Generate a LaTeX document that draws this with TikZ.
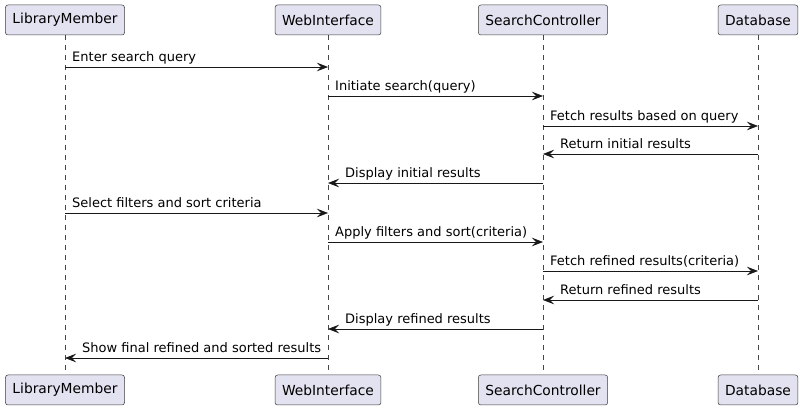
\documentclass[tikz,border=0pt]{standalone}
\usepackage{fontspec}
\setmainfont{DejaVu Sans}
\usetikzlibrary{arrows.meta}
\definecolor{partfill}{HTML}{E2E2F0}
\definecolor{umlline}{HTML}{181818}

\begin{document}
\begin{tikzpicture}[x=1pt, y=-1pt,
  part/.style={draw=umlline!85, fill=partfill, rounded corners=2.5pt,
    minimum height=30pt, inner xsep=7pt, line width=0.5pt,
    font=\fontsize{13.8}{16}\selectfont},
  life/.style={draw=umlline!80, dash pattern=on 5pt off 5pt, line width=0.5pt},
  msg/.style={draw=umlline, line width=0.7pt,
    -{Stealth[length=11pt, width=8.5pt, inset=4pt]}},
  lbl/.style={font=\fontsize{13}{15}\selectfont, inner sep=0pt, anchor=base west}]
  \useasboundingbox (0,0) rectangle (804,411);
  % participants, top and bottom, with lifelines
  \foreach \n/\x/\t in {lm/65/LibraryMember, wi/328/WebInterface,
      sc/543/SearchController, db/758/Database} {
    \node[part] (\n) at (\x,20) {\t};
    \node[part] (\n b) at (\x,390) {\t};
    \draw[life] (\n) -- (\n b);
  }
  % messages to the right
  \foreach \y/\a/\b/\t in {67/lm/wi/Enter search query,
      96/wi/sc/Initiate search(query),
      126/sc/db/Fetch results based on query,
      213/lm/wi/Select filters and sort criteria,
      242/wi/sc/Apply filters and sort(criteria),
      271/sc/db/Fetch refined results(criteria)} {
    \draw[msg] (\a |- 0,\y) -- (\b |- 0,\y);
    \node[lbl] at ([xshift=7pt, yshift=5pt]\a |- 0,\y) {\t};
  }
  % messages to the left
  \foreach \y/\a/\b/\t in {154/db/sc/Return initial results,
      183/sc/wi/Display initial results,
      300/db/sc/Return refined results,
      329/sc/wi/Display refined results,
      358/wi/lm/Show final refined and sorted results} {
    \draw[msg] (\a |- 0,\y) -- (\b |- 0,\y);
    \node[lbl] at ([xshift=17pt, yshift=5pt]\b |- 0,\y) {\t};
  }
\end{tikzpicture}
\end{document}
